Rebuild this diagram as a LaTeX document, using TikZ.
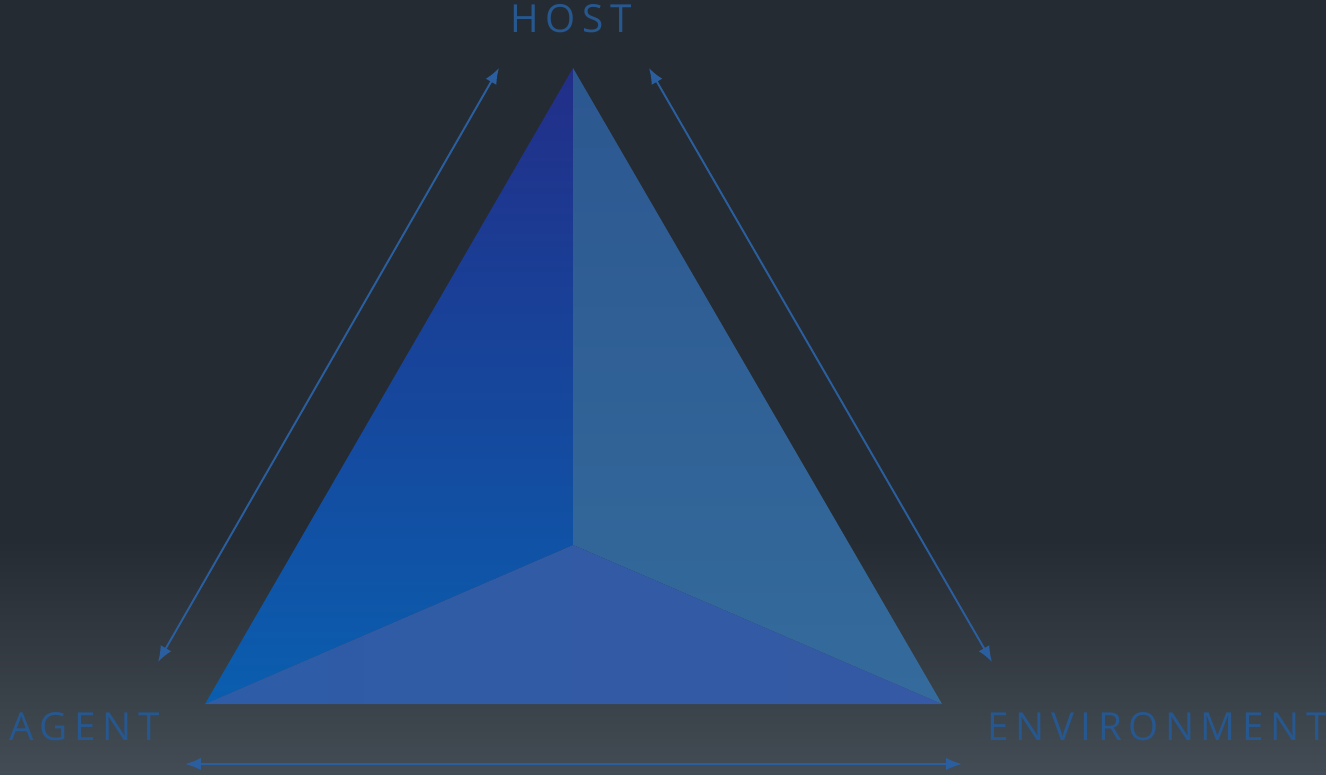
\documentclass[tikz,border=0pt]{standalone}
\usepackage{fontspec}
\setmainfont{Open Sans}
\newfontfamily\spaced[LetterSpace=17]{Open Sans}
\definecolor{bg_top}{HTML}{252B32}
\definecolor{bg_bot}{HTML}{434C54}
\definecolor{line_c}{HTML}{2A5E9E}
\definecolor{text_c}{HTML}{27578F}
\definecolor{left_t}{HTML}{222E88}
\definecolor{left_b}{HTML}{0A5EAF}
\definecolor{right_t}{HTML}{2C5790}
\definecolor{right_b}{HTML}{346B9C}
\definecolor{base_l}{HTML}{2E5CA6}
\definecolor{base_r}{HTML}{3559A4}
\usetikzlibrary{arrows.meta, positioning}

\begin{document}
\begin{tikzpicture}[
			x=0.2mm, y=-0.2mm,
			link/.style = {draw=line_c, line width=1.1pt, {Latex[length=9pt,width=7pt]}-{Latex[length=9pt,width=7pt]}},
			label_t/.style = {text=text_c, font=\spaced\fontsize{22}{26}\selectfont, inner sep=0pt},
			]
			% background
			\fill[bg_top] (0,0) rectangle (1326,774);
			\shade[top color=bg_top, bottom color=bg_bot] (0,540) rectangle (1326,774);
			\useasboundingbox (0,0) rectangle (1326,774);
			% corners of the pyramid
			\coordinate (apex) at (573,68);
			\coordinate (left) at (205,704);
			\coordinate (right) at (942,704);
			\coordinate (mid) at (573,545);
			% faces
			\shade[shading angle=20, top color=left_t, bottom color=left_b] (apex) -- (left) -- (mid) -- cycle;
			\shade[top color=right_t, bottom color=right_b] (apex) -- (mid) -- (right) -- cycle;
			\shade[left color=base_l, right color=base_r] (left) -- (right) -- (mid) -- cycle;
			% labels
			\node[label_t] (host) at (571,19) {HOST};
			\node[label_t, anchor=west] (agent) at (9,727) {AGENT};
			\node[label_t, anchor=east] (env) at (1328,727) {ENVIRONMENT};
			% arrow ends
			\coordinate (a1) at (158,662);
			\coordinate (a2) at (499,68);
			\coordinate (b1) at (649,68);
			\coordinate (b2) at (992,662);
			\coordinate (c1) at (185,764);
			\coordinate (c2) at (962,764);
			% edges
			\path[link] (a1) -- (a2);
			\path[link] (b1) -- (b2);
			\path[link] (c1) -- (c2);
		\end{tikzpicture}
\end{document}
